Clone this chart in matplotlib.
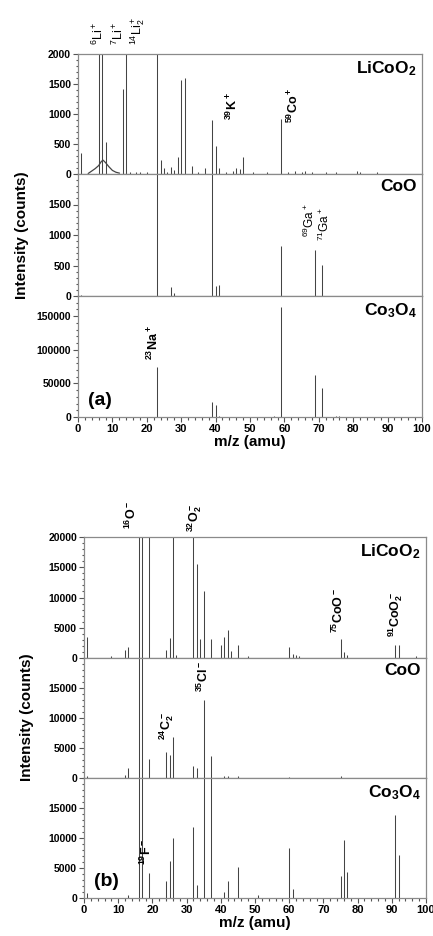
import matplotlib
matplotlib.use("Agg")
import matplotlib.pyplot as plt
from matplotlib.ticker import MultipleLocator, FixedLocator

plt.rcParams['font.family'] = ['Liberation Sans', 'DejaVu Sans']
plt.rcParams['mathtext.fontset'] = 'custom'
plt.rcParams['mathtext.default'] = 'regular'

samples = ['LiCoO$_2$', 'CoO', 'Co$_3$O$_4$']

# (a) positive ions
a_licoo2_mz = [1, 6, 7, 8, 13, 14, 15, 17, 18, 20, 23, 24, 25, 26, 27, 28, 29, 30, 31, 33,
               35, 37, 39, 40, 41, 43, 45, 46, 47, 48, 51, 55, 59, 61, 63, 65, 66, 68,
               72, 75, 81, 82, 87]
a_licoo2_int = [350, 5000, 5000, 540, 1420, 5000, 40, 30, 30, 30, 5000, 240, 100, 40, 110, 60, 290, 1570, 1600, 130,
                40, 100, 900, 460, 100, 40, 50, 100, 90, 285, 30, 30, 920, 40, 50, 40, 50, 40,
                30, 30, 50, 40, 40]
a_hump_mz = [3, 4, 5, 6, 6.8, 7.3, 8, 9, 10, 11, 12]
a_hump_int = [10, 50, 90, 140, 210, 230, 190, 120, 60, 30, 15]

a_coo_mz = [1, 23, 27, 28, 39, 40, 41, 59, 69, 71]
a_coo_int = [20, 3000, 140, 50, 3000, 170, 180, 825, 750, 505]

a_co3o4_mz = [1, 16, 23, 39, 40, 41, 57, 59, 69, 71, 75, 76]
a_co3o4_int = [300, 500, 74500, 23000, 18000, 2000, 1500, 163000, 62000, 43000, 1500, 1200]

# (b) negative ions
b_licoo2_mz = [1, 8, 12, 13, 16, 17, 19, 24, 25, 26, 27, 32, 33, 34, 35, 37, 40, 41, 42, 43,
               45, 48, 60, 61, 62, 63, 75, 76, 77, 91, 92, 97]
b_licoo2_int = [3500, 400, 1300, 1900, 60000, 60000, 60000, 1300, 3250, 60000, 500, 60000, 15500, 3200, 11000, 3100, 2100, 3500, 4600, 1200,
                2100, 400, 1800, 700, 500, 300, 3100, 1000, 500, 2200, 2200, 300]

b_coo_mz = [1, 12, 13, 16, 17, 19, 24, 25, 26, 32, 33, 35, 37, 41, 42, 45, 60, 75]
b_coo_int = [300, 500, 1600, 60000, 60000, 3100, 4400, 3800, 6900, 2000, 1600, 13000, 3700, 300, 400, 300, 200, 400]

b_co3o4_mz = [1, 13, 16, 17, 19, 24, 25, 26, 32, 33, 35, 37, 41, 42, 45, 51, 60, 61, 75, 76, 77, 91, 92]
b_co3o4_int = [800, 500, 60000, 60000, 4200, 2800, 6200, 10000, 11800, 2200, 60000, 60000, 1000, 2800, 5200, 500, 8400, 1500, 3600, 9700, 4300, 13900, 7200]

# peak labels: (text, m/z, intensity, bold)
a_labels = [
    [('$^6$Li$^+$', 5.8, 2150, False), ('$^7$Li$^+$', 11.6, 2150, False), ('$^{14}$Li$_2^+$', 17.2, 2150, False),
     ('$^{39}$K$^+$', 44.8, 900, True), ('$^{59}$Co$^+$', 62.5, 850, True)],
    [('$^{69}$Ga$^+$', 67.4, 960, False), ('$^{71}$Ga$^+$', 71.7, 900, False)],
    [('$^{23}$Na$^+$', 22.0, 85000, True)],
]
b_labels = [
    [('$^{16}$O$^-$', 13.9, 21400, True), ('$^{32}$O$_2^-$', 32.5, 20800, True),
     ('$^{75}$CoO$^-$', 74.3, 4100, True), ('$^{91}$CoO$_2^-$', 91.0, 3500, True)],
    [('$^{24}$C$_2^-$', 24.3, 6300, True), ('$^{35}$Cl$^-$', 34.8, 14300, True)],
    [('$^{19}$F$^-$', 18.3, 5500, True)],
]

W, H = 433, 936
fig = plt.figure(figsize=(W / 100, H / 100), dpi=100)


def frac_box(x0, x1, ytop, ybot):
    return [x0 / W, 1 - ybot / H, (x1 - x0) / W, (ybot - ytop) / H]


def style_axis(ax, ymax, yticks, yminor, bottom):
    ax.set_xlim(0, 100)
    ax.set_ylim(0, ymax)
    for s in ax.spines.values():
        s.set_color('#8a8a8a')
        s.set_linewidth(0.9)
    ax.yaxis.set_major_locator(FixedLocator(yticks))
    ax.yaxis.set_minor_locator(MultipleLocator(yminor))
    ax.xaxis.set_major_locator(MultipleLocator(10))
    ax.xaxis.set_minor_locator(MultipleLocator(2))
    ax.tick_params(which='both', direction='out', color='#555555', width=0.8, pad=1.5)
    ax.tick_params(which='major', length=3.5)
    ax.tick_params(which='minor', length=1.8)
    ax.tick_params(axis='y', which='both', right=False, labelsize=7.5)
    if bottom:
        ax.tick_params(axis='x', which='both', top=False, labelsize=8)
    else:
        ax.tick_params(axis='x', which='both', bottom=False, top=False, labelbottom=False)
    for lab in ax.get_yticklabels() + ax.get_xticklabels():
        lab.set_fontweight('bold')


def draw_panel(x0, x1, bounds, spectra, ymaxes, yticks, yminors, labels, tag, ylab_x):
    axes = []
    for i in range(3):
        ax = fig.add_axes(frac_box(x0, x1, bounds[i], bounds[i + 1]))
        mz, inten = spectra[i]
        ax.vlines(mz, 0, inten, color='#444444', lw=0.75)
        ax.axhline(0, color='#555555', lw=0.6)
        style_axis(ax, ymaxes[i], yticks[i], yminors[i], i == 2)
        ax.text(0.985, 0.955, samples[i], transform=ax.transAxes, ha='right', va='top',
                fontsize=12.5, fontweight='bold')
        for txt, x, y, bold in labels[i]:
            ax.text(x, y, txt, rotation=90, ha='center', va='bottom', clip_on=False,
                    fontsize=8.5 if i == 1 and tag == '(a)' else 9,
                    fontweight='bold' if bold else 'normal')
        axes.append(ax)
    axes[2].set_xlabel('m/z (amu)', fontsize=11, fontweight='bold', labelpad=1)
    axes[2].text(0.03, 0.1, tag, transform=axes[2].transAxes, fontsize=14, fontweight='bold')
    fig.text(ylab_x / W, 1 - (bounds[0] + bounds[3]) / 2 / H, 'Intensity (counts)', rotation=90,
             ha='center', va='center', fontsize=11, fontweight='bold')
    return axes


axes_a = draw_panel(78, 422, [54, 174, 296, 417],
                    [(a_licoo2_mz, a_licoo2_int), (a_coo_mz, a_coo_int), (a_co3o4_mz, a_co3o4_int)],
                    [2000, 2000, 180000],
                    [[0, 500, 1000, 1500, 2000], [0, 500, 1000, 1500], [0, 50000, 100000, 150000]],
                    [100, 100, 10000], a_labels, '(a)', 22)
axes_a[0].plot(a_hump_mz, a_hump_int, color='#444444', lw=0.9)

axes_b = draw_panel(84, 426, [537, 658, 778, 898],
                    [(b_licoo2_mz, b_licoo2_int), (b_coo_mz, b_coo_int), (b_co3o4_mz, b_co3o4_int)],
                    [20000, 20000, 20000],
                    [[0, 5000, 10000, 15000, 20000], [0, 5000, 10000, 15000], [0, 5000, 10000, 15000]],
                    [1000, 1000, 1000], b_labels, '(b)', 27)

fig.savefig('out.png', dpi=100)
